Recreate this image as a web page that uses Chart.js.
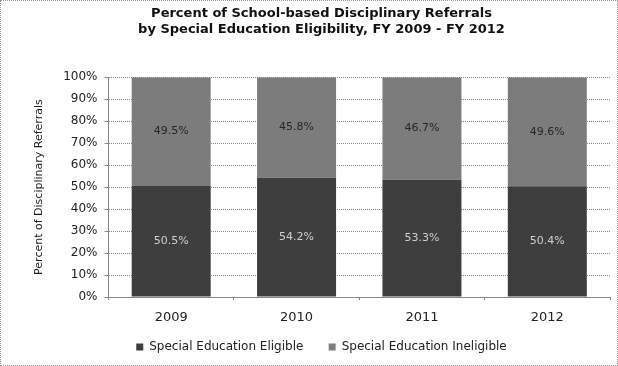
<!DOCTYPE html>
<html>
<head>
<meta charset="utf-8">
<script src="https://cdn.jsdelivr.net/npm/chart.js@4"></script>
<style>
  html, body { margin: 0; padding: 0; background: #fff; }
  #wrap { width: 616px; height: 364px; border: 1px dotted #999; position: relative; }
</style>
</head>
<body>
<div id="wrap"><canvas id="chart" width="616" height="364"></canvas></div>
<script>
// DATA
const years = ["2009", "2010", "2011", "2012"];
const eligible = [50.5, 54.2, 53.3, 50.4];
const ineligible = [49.5, 45.8, 46.7, 49.6];
const yTicks = [0, 10, 20, 30, 40, 50, 60, 70, 80, 90, 100];

const FONT = "'DejaVu Sans', sans-serif";

// labels in the middle of each bar segment
const barLabels = {
  id: "barLabels",
  afterDatasetsDraw(chart) {
    const ctx = chart.ctx;
    ctx.save();
    ctx.font = "11px " + FONT;
    ctx.textAlign = "center";
    ctx.textBaseline = "middle";
    chart.data.datasets.forEach((ds, i) => {
      const meta = chart.getDatasetMeta(i);
      ctx.fillStyle = i === 0 ? "#cfcfcf" : "#262626";
      meta.data.forEach((bar, j) => {
        const mid = (bar.y + bar.base) / 2;
        ctx.fillText(ds.data[j].toFixed(1) + "%", bar.x, mid);
      });
    });
    ctx.restore();
  }
};

new Chart(document.getElementById("chart"), {
  type: "bar",
  data: {
    labels: years,
    datasets: [
      {
        label: "Special Education Eligible",
        data: eligible,
        backgroundColor: "#3e3e3e",
        barPercentage: 0.63,
        categoryPercentage: 1
      },
      {
        label: "Special Education Ineligible",
        data: ineligible,
        backgroundColor: "#7c7c7c",
        barPercentage: 0.63,
        categoryPercentage: 1
      }
    ]
  },
  options: {
    responsive: false,
    animation: false,
    layout: { padding: { left: 32, right: 7, top: 4, bottom: 2 } },
    plugins: {
      title: {
        display: true,
        text: ["Percent of School-based Disciplinary Referrals",
               "by Special Education Eligibility, FY 2009 - FY 2012"],
        font: { family: FONT, size: 13, weight: "bold" },
        color: "#111",
        padding: { top: 1, bottom: 40 },
        lineHeight: 1.3
      },
      legend: {
        position: "bottom",
        labels: {
          boxWidth: 7,
          boxHeight: 7,
          color: "#222",
          font: { family: FONT, size: 12 },
          padding: 10,
          // wider gap between the two entries
          generateLabels: chart => {
            const items = Chart.defaults.plugins.legend.labels.generateLabels(chart);
            items[0].text += "\u00a0\u00a0\u00a0\u00a0";
            return items;
          }
        }
      },
      tooltip: { enabled: false }
    },
    scales: {
      x: {
        stacked: true,
        afterFit: axis => { axis.height = 34; },
        grid: { drawOnChartArea: false, offset: true, tickLength: 3, color: "#888" },
        border: { color: "#888" },
        ticks: {
          color: "#222",
          font: { family: FONT, size: 13 },
          padding: 10
        }
      },
      y: {
        stacked: true,
        min: 0,
        max: 100,
        afterBuildTicks: axis => { axis.ticks = yTicks.map(v => ({ value: v })); },
        grid: { color: "#8a8a8a", tickLength: 4, tickColor: "#888" },
        border: { color: "#888", dash: [1, 1] },
        ticks: {
          color: "#222",
          font: { family: FONT, size: 12 },
          callback: v => v + "%",
          padding: 7
        },
        title: {
          display: true,
          text: "Percent of Disciplinary Referrals",
          color: "#222",
          font: { family: FONT, size: 11 },
          padding: { top: 0, bottom: 10 }
        }
      }
    }
  },
  plugins: [barLabels]
});
</script>
</body>
</html>
